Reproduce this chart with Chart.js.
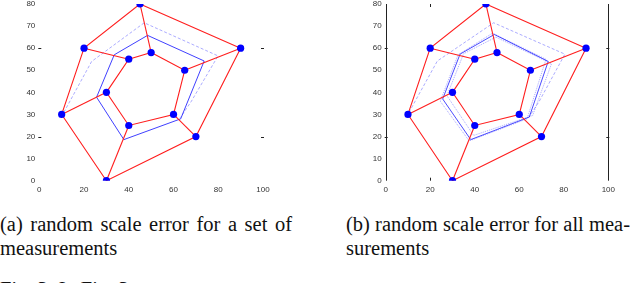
<!DOCTYPE html>
<html>
<head>
<meta charset="utf-8">
<script src="https://cdn.jsdelivr.net/npm/chart.js@4.4.1/dist/chart.umd.min.js"></script>
<style>
body{margin:0;background:#fff;width:640px;height:283px;overflow:hidden;position:relative;}
.box{position:absolute;top:0;width:320px;height:200px}
.cap{position:absolute;font-family:"Liberation Serif","Times New Roman","DejaVu Serif",serif;font-size:20.5px;line-height:24px;color:#111;white-space:nowrap}
.just{text-align:justify;text-align-last:justify;white-space:normal}
</style>
</head>
<body>
<div class="box" style="left:0"><canvas id="chartA" width="320" height="200"></canvas></div>
<div class="box" style="left:320px"><canvas id="chartB" width="320" height="200"></canvas></div>

<div class="cap just" style="left:0;top:212px;width:292px">(a) random scale error for a set of</div>
<div class="cap" style="left:0;top:236px">measurements</div>
<div class="cap just" style="left:346px;top:212px;width:284px">(b) random scale error for all mea-</div>
<div class="cap" style="left:346px;top:236px">surements</div>
<div class="cap" style="left:0;top:277px">Fig. 3: In Fig. 3</div>

<script>
// tick labels
const xTicks = [0, 20, 40, 60, 80, 100];
const yTicks = [0, 10, 20, 30, 40, 50, 60, 70, 80];
const dashY = [20, 60];

// true layout (red, both panels)
const outerX = [45, 90, 70, 30, 10, 20];
const outerY = [80, 60, 20, 0, 30, 60];
const innerX = [50, 65, 60, 40, 30, 40];
const innerY = [58, 50, 30, 25, 40, 55];

// estimates, panel (a)
const estA1X = [48.4, 73.7, 63.2, 37.8, 25.6, 33.5];
const estA1Y = [65.8, 54.2, 28.0, 18.6, 37.8, 57.0];
const estA2X = [11.0, 23.4, 46.9, 79.9, 68.0, 63.0];
const estA2Y = [31.0, 54.0, 71.5, 56.5, 36.0, 28.5];

// estimates, panel (b)
const estB1X = [48.8, 73.0, 64.5, 38.2, 25.6, 33.4];
const estB1Y = [66.2, 54.0, 28.8, 18.6, 37.0, 57.3];
const estB2X = [49.5, 74.5, 66.0, 39.5, 27.5, 35.0];
const estB2Y = [65.0, 53.0, 29.5, 20.5, 38.5, 57.5];
const estB3X = [48.0, 72.0, 63.5, 37.5, 24.5, 32.5];
const estB3Y = [66.8, 55.0, 28.0, 18.0, 36.0, 57.0];
const estB4X = [10.5, 23.2, 48.5, 80.5, 69.0, 64.5];
const estB4Y = [31.0, 54.2, 71.5, 57.3, 36.0, 29.0];

Chart.defaults.font.family = '"Liberation Sans", Arial, sans-serif';
Chart.defaults.font.size = 8;
Chart.defaults.color = '#333';

function pts(xs, ys, closed) {
  const p = xs.map((x, i) => ({x: x, y: ys[i]}));
  if (closed) p.push(p[0]);
  return p;
}

function lineSet(data, color, width, dash) {
  return {data: data, showLine: true, borderColor: color, borderWidth: width,
    borderDash: dash || [], pointRadius: 0, fill: false, tension: 0, order: 2};
}

function redSets() {
  const sets = [
    lineSet(pts(outerX, outerY, true), 'rgb(255,30,30)', 1.1),
    lineSet(pts(innerX, innerY, true), 'rgb(255,30,30)', 1.1)
  ];
  outerX.forEach((x, i) => {
    sets.push(lineSet([{x: x, y: outerY[i]}, {x: innerX[i], y: innerY[i]}], 'rgb(255,30,30)', 1.1));
  });
  sets.forEach(s => s.order = 1);
  sets.push({data: pts(outerX, outerY).concat(pts(innerX, innerY)), showLine: false,
    pointRadius: 3.6, backgroundColor: '#0000ff', borderWidth: 0, order: 0});
  return sets;
}

// small tick marks and frame lines
const marks = {
  id: 'marks',
  beforeDatasetsDraw(chart, args, o) {
    const {ctx, scales: {x, y}} = chart;
    ctx.save();
    ctx.strokeStyle = '#222';
    ctx.lineWidth = 1;
    const x0 = x.getPixelForValue(0), x1 = x.getPixelForValue(100);
    const y0 = y.getPixelForValue(0), y1 = y.getPixelForValue(80);
    ctx.beginPath();
    if (o.frame) {
      ctx.moveTo(Math.round(x0) + 0.5, y0); ctx.lineTo(Math.round(x0) + 0.5, y1);
      ctx.moveTo(Math.round(x1) + 0.5, y0); ctx.lineTo(Math.round(x1) + 0.5, y1);
    }
    dashY.forEach(v => {
      const py = Math.round(y.getPixelForValue(v)) + 0.5;
      ctx.moveTo(x0 - 1, py); ctx.lineTo(x0 + 2, py);
      ctx.moveTo(x1 - 2, py); ctx.lineTo(x1 + 1, py);
    });
    (o.dashX || []).forEach(v => {
      const px = Math.round(x.getPixelForValue(v)) + 0.5;
      ctx.moveTo(px, y1); ctx.lineTo(px, y1 + 3);
      ctx.moveTo(px, y0); ctx.lineTo(px, y0 - 3);
    });
    ctx.stroke();
    ctx.restore();
  }
};

function makeChart(id, datasets, yWidth, padRight, markOpts) {
  return new Chart(document.getElementById(id), {
    type: 'scatter',
    data: {datasets: datasets},
    plugins: [marks],
    options: {
      responsive: false,
      animation: false,
      devicePixelRatio: 1,
      layout: {padding: {top: 2.7, right: padRight, bottom: 0, left: 0}},
      plugins: {legend: {display: false}, tooltip: {enabled: false}, marks: markOpts},
      scales: {
        x: {
          type: 'linear', min: 0, max: 100,
          grid: {display: false, drawTicks: false}, border: {display: false},
          afterBuildTicks: s => { s.ticks = xTicks.map(v => ({value: v})); },
          afterFit: s => { s.height = 19.3; s.paddingLeft = 0; s.paddingRight = 0; },
          ticks: {padding: 4, maxRotation: 0, autoSkip: false}
        },
        y: {
          type: 'linear', min: 0, max: 80,
          grid: {display: false, drawTicks: false}, border: {display: false},
          afterBuildTicks: s => { s.ticks = yTicks.map(v => ({value: v})); },
          afterFit: s => { s.width = yWidth; s.paddingTop = 0; s.paddingBottom = 0; },
          ticks: {padding: 4, autoSkip: false}
        }
      }
    }
  });
}

// panel (a)
const setsA = redSets().concat([
  lineSet(pts(estA1X, estA1Y, true), 'rgba(30,30,255,0.85)', 1),
  lineSet(pts(estA2X, estA2Y, false), 'rgba(90,90,255,0.5)', 1, [3, 2])
]);
makeChart('chartA', setsA, 39.3, 57, {frame: false, dashX: []});

// panel (b)
const setsB = redSets().concat([
  lineSet(pts(estB1X, estB1Y, true), 'rgba(30,30,255,0.8)', 1),
  lineSet(pts(estB2X, estB2Y, true), 'rgba(60,60,255,0.45)', 1, [1, 1]),
  lineSet(pts(estB3X, estB3Y, true), 'rgba(60,60,255,0.45)', 1, [1, 1]),
  lineSet(pts(estB4X, estB4Y, false), 'rgba(90,90,255,0.5)', 1, [3, 2])
]);
makeChart('chartB', setsB, 65.7, 31.7, {frame: true, dashX: [20]});
</script>
</body>
</html>
